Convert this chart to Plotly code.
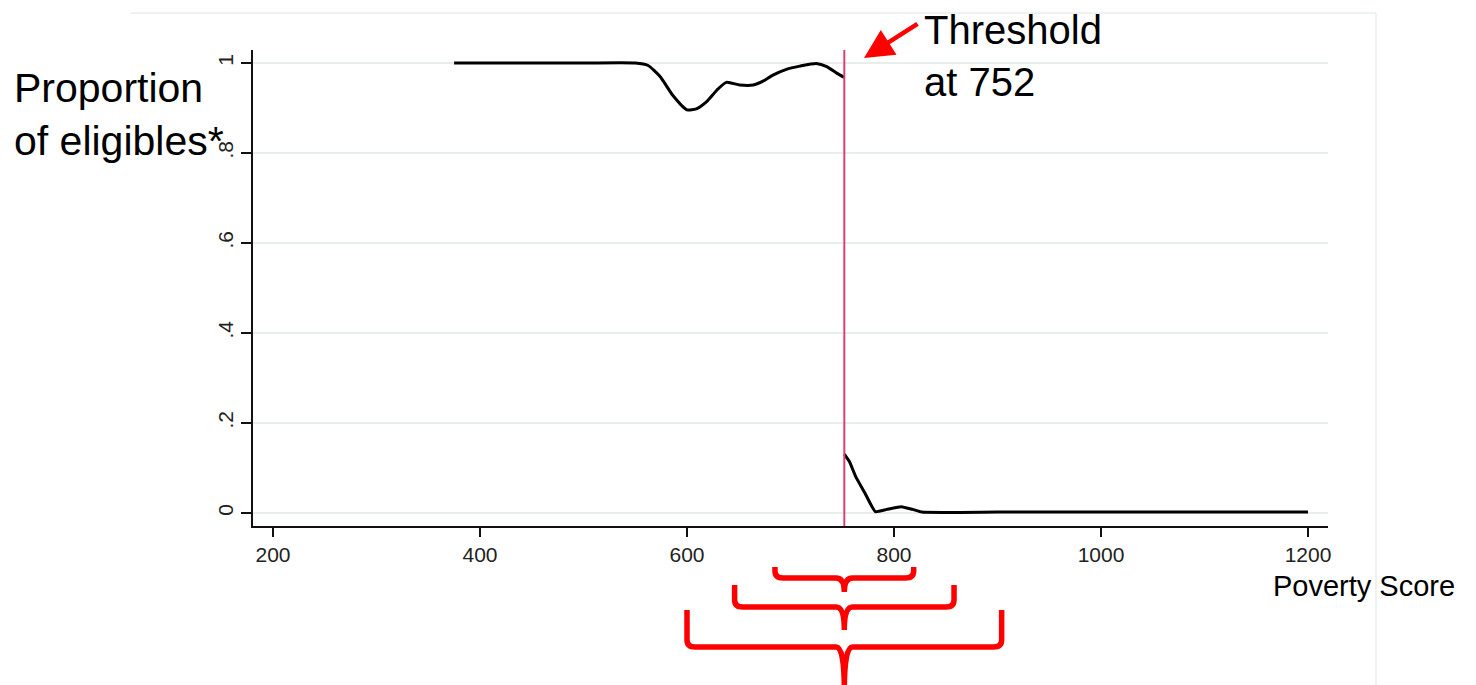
import plotly.graph_objects as go

# ---- data ----
upper_x = [375, 450, 500, 550, 562, 574, 586, 600, 609, 619, 629, 638, 651, 664, 673, 683, 696, 709, 725, 735, 745, 752]
upper_y = [1.0, 1.0, 1.0, 1.0, 0.995, 0.970, 0.929, 0.896, 0.898, 0.914, 0.940, 0.957, 0.951, 0.951, 0.959, 0.973, 0.986, 0.993, 0.999, 0.992, 0.977, 0.968]
lower_x = [752, 757, 763, 772, 782, 793, 807, 818, 827, 900, 1000, 1100, 1200]
lower_y = [0.131, 0.114, 0.081, 0.044, 0.003, 0.008, 0.014, 0.008, 0.002, 0.002, 0.002, 0.002, 0.002]
threshold = 752
x_ticks = [200, 400, 600, 800, 1000, 1200]
y_ticks = [0, 0.2, 0.4, 0.6, 0.8, 1]
y_tick_labels = ["0", ".2", ".4", ".6", ".8", "1"]
brace_half_widths = [67, 106, 152]

W, H = 1476, 685
OFF = 8  # page body margin
L, R, T, B = 253, 1328, 50, 526  # plot area in page pixels


def py(p):  # page pixel y -> paper y
    return (B - p) / (B - T)


def px(p):  # page pixel x -> paper x
    return (p - L) / (R - L)


fig = go.Figure()
fig.add_trace(go.Scatter(x=upper_x, y=upper_y, mode="lines",
                         line=dict(color="black", width=3, shape="spline", smoothing=0.6),
                         showlegend=False, hoverinfo="skip"))
fig.add_trace(go.Scatter(x=lower_x, y=lower_y, mode="lines",
                         line=dict(color="black", width=3, shape="spline", smoothing=0.4),
                         showlegend=False, hoverinfo="skip"))

shapes = []
# threshold line
shapes.append(dict(type="line", xref="x", yref="paper", x0=threshold, x1=threshold, y0=0, y1=1,
                   line=dict(color="#d8436e", width=2)))
# faint outer frame of the original graph region
shapes.append(dict(type="line", xref="paper", yref="paper", x0=px(130), x1=px(1376), y0=py(13), y1=py(13),
                   line=dict(color="#e8eeee", width=1.5)))
shapes.append(dict(type="line", xref="paper", yref="paper", x0=px(1376), x1=px(1376), y0=py(13), y1=py(690),
                   line=dict(color="#e8eeee", width=1.5)))

# braces
brace_geom = [(567, 578, 592), (585, 607, 630), (610, 647, 690)]
for hw, (yt, yb, ys) in zip(brace_half_widths, brace_geom):
    c = threshold
    lft, rgt = c - hw, c + hw
    rx = 8
    top, bar, stem = py(yt), py(yb), py(ys)
    bar_r = py(yb - 7)
    path = (f"M {lft},{top} L {lft},{bar_r} Q {lft},{bar} {lft+rx},{bar} "
            f"L {c-rx},{bar} Q {c},{bar} {c},{stem} "
            f"M {rgt},{top} L {rgt},{bar_r} Q {rgt},{bar} {rgt-rx},{bar} "
            f"L {c+rx},{bar} Q {c},{bar} {c},{stem}")
    shapes.append(dict(type="path", xref="x", yref="paper", path=path,
                       line=dict(color="#ff0000", width=5.5)))

annotations = [
    dict(text="Proportion<br>of eligibles*", xref="paper", yref="paper", x=px(12), y=py(63),
         xanchor="left", yanchor="top", align="left", showarrow=False,
         font=dict(family="Liberation Sans, Arial", size=41, color="black")),
    dict(text="Threshold<br>at 752", xref="paper", yref="paper", x=px(922), y=py(6),
         xanchor="left", yanchor="top", align="left", showarrow=False,
         font=dict(family="Liberation Sans, Arial", size=40, color="black")),
    dict(text="Poverty Score", xref="paper", yref="paper", x=px(1271), y=py(568),
         xanchor="left", yanchor="top", align="left", showarrow=False,
         font=dict(family="Liberation Sans, Arial", size=29, color="black")),
    dict(text="", xref="paper", yref="paper", x=px(864), y=py(58), ax=55, ay=-35,
         showarrow=True, arrowhead=2, arrowsize=1.3, arrowwidth=4.5, arrowcolor="#ff0000"),
]

fig.update_layout(
    width=W, height=H,
    margin=dict(l=L - OFF, r=W - (R - OFF), t=T - OFF, b=H - (B - OFF), autoexpand=False),
    paper_bgcolor="white", plot_bgcolor="white",
    shapes=shapes, annotations=annotations,
    xaxis=dict(range=[180.7, 1219.3], tickvals=x_ticks, ticktext=[str(v) for v in x_ticks],
               showgrid=False, zeroline=False, showline=True, linecolor="#111", linewidth=2,
               ticks="outside", ticklen=9, tickwidth=2, tickcolor="#111",
               tickfont=dict(family="Liberation Sans, Arial", size=21, color="#222"), automargin=False),
    yaxis=dict(range=[-0.0289, 1.0289], tickvals=y_ticks, ticktext=y_tick_labels, tickangle=-90,
               showgrid=True, gridcolor="#e8eeee", gridwidth=1.5, zeroline=False,
               showline=True, linecolor="#111", linewidth=2,
               ticks="outside", ticklen=10, tickwidth=2, tickcolor="#111",
               tickfont=dict(family="Liberation Sans, Arial", size=21, color="#222"), automargin=False),
)

fig.write_html("out.html")
